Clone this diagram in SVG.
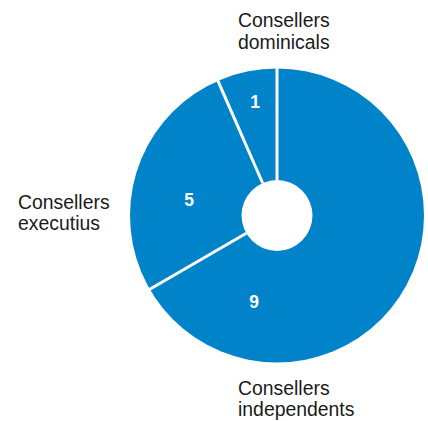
<svg xmlns="http://www.w3.org/2000/svg" width="428" height="421" viewBox="0 0 428 421">
<style>
.lbl{font-family:"Liberation Sans",Arial,sans-serif;font-size:19.4px;fill:#1a1a1a}
.num{font-family:"Liberation Sans",Arial,sans-serif;font-size:17.5px;font-weight:bold;fill:#ffffff;text-anchor:middle}
.sep{stroke:#ffffff;stroke-width:3}
</style>
<rect width="428" height="421" fill="#ffffff"/>
<g id="donut">
<circle cx="277" cy="215.5" r="147" fill="#0083C8"/>
<circle cx="277" cy="215.5" r="35.5" fill="#ffffff"/>
</g>
<g id="connectors">
<line class="sep" x1="277" y1="180" x2="277" y2="66"/>
<line class="sep" x1="262.6" y1="183" x2="217.6" y2="80.2"/>
<line class="sep" x1="246.3" y1="233.2" x2="148.9" y2="289.7"/>
</g>
<g id="slice-dominicals"><text class="num" x="255" y="108">1</text></g>
<g id="slice-executius"><text class="num" x="189" y="206">5</text></g>
<g id="slice-independents"><text class="num" x="254" y="308">9</text></g>
<g id="label-dominicals"><text class="lbl" x="238" y="27">Consellers</text><text class="lbl" x="238" y="49">dominicals</text></g>
<g id="label-executius"><text class="lbl" x="18" y="209">Consellers</text><text class="lbl" x="18" y="230">executius</text></g>
<g id="label-independents"><text class="lbl" x="238" y="395">Consellers</text><text class="lbl" x="238" y="416">independents</text></g>
</svg>
